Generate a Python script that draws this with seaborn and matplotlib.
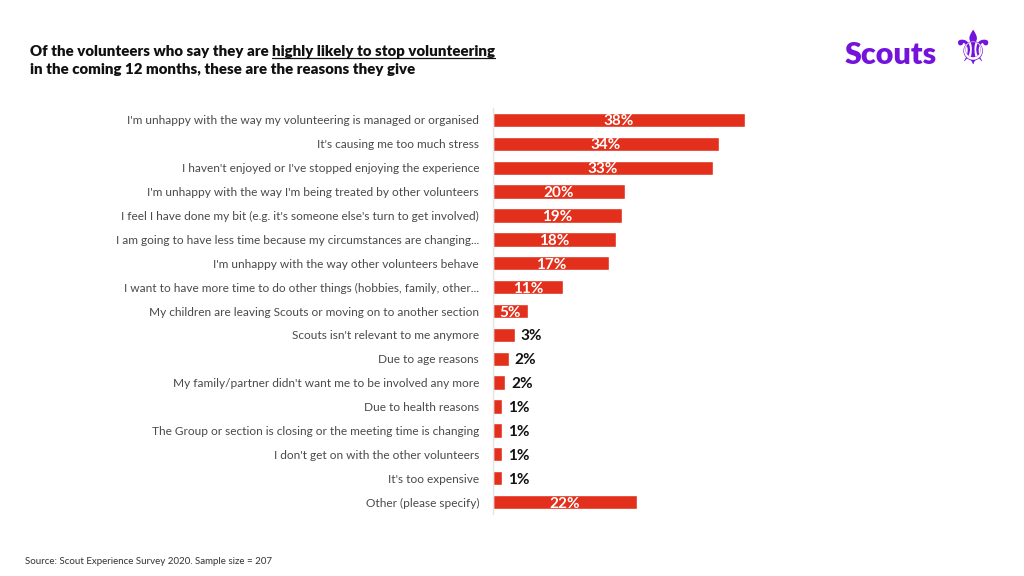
"""
Reasons volunteers give for stopping - horizontal bar chart.
"""

import pandas as pd
import matplotlib.pyplot as plt
import seaborn as sns
from matplotlib.lines import Line2D

# Data
reasons = [
    "I'm unhappy with the way my volunteering is managed or organised",
    "It's causing me too much stress",
    "I haven't enjoyed or I've stopped enjoying the experience",
    "I'm unhappy with the way I'm being treated by other volunteers",
    "I feel I have done my bit (e.g. it's someone else's turn to get involved)",
    "I am going to have less time because my circumstances are changing...",
    "I'm unhappy with the way other volunteers behave",
    "I want to have more time to do other things (hobbies, family, other...",
    "My children are leaving Scouts or moving on to another section",
    "Scouts isn't relevant to me anymore",
    "Due to age reasons",
    "My family/partner didn't want me to be involved any more",
    "Due to health reasons",
    "The Group or section is closing or the meeting time is changing",
    "I don't get on with the other volunteers",
    "It's too expensive",
    "Other (please specify)",
]
shares = [38.0, 34.1, 33.2, 19.9, 19.5, 18.5, 17.5, 10.6, 5.3, 3.3, 2.4, 1.8,
          1.4, 1.4, 1.4, 1.4, 21.7]
pct_labels = ["38%", "34%", "33%", "20%", "19%", "18%", "17%", "11%", "5%",
              "3%", "2%", "2%", "1%", "1%", "1%", "1%", "22%"]

BAR_RED = "#e3301c"
PURPLE = "#7413dc"

sns.set_theme(style="white")
plt.rcParams["font.family"] = ["Lato", "DejaVu Sans"]

df = pd.DataFrame({"Reason": reasons, "Share": shares})

fig = plt.figure(figsize=(10.24, 5.76), dpi=100)
ax = fig.add_axes([493 / 1024, 1 - 514 / 576, 265 / 1024, 406 / 576])

sns.barplot(data=df, x="Share", y="Reason", color=BAR_RED, saturation=1,
            width=0.6, ax=ax, orient="h")
ax.set_xlim(0, 40)
ax.set_ylim(len(reasons) - 0.5, -0.5)
ax.set_xlabel("")
ax.set_ylabel("")
ax.set_xticks([])
ax.tick_params(axis="y", length=0, pad=10, labelsize=8.55, labelcolor="#4a4a4a")
for side in ["top", "right", "bottom"]:
    ax.spines[side].set_visible(False)
ax.spines["left"].set_color("#e4e4e4")
ax.spines["left"].set_linewidth(1)

# value labels: inside for long bars, outside for short ones
for i, (v, lab) in enumerate(zip(shares, pct_labels)):
    if v >= 5:
        ax.text(v / 2, i, lab, ha="center", va="center_baseline", color="white",
                fontsize=11, fontweight="bold")
    else:
        ax.text(v + 0.9, i, lab, ha="left", va="center_baseline", color="#111111",
                fontsize=11, fontweight="bold")

# title with underlined part
renderer = fig.canvas.get_renderer()
title_kw = dict(fontsize=10.8, fontweight="heavy", color="#111111", va="center")
t1 = fig.text(30 / 1024, 1 - 52 / 576, "Of the volunteers who say they are ",
              **title_kw)
bb = t1.get_window_extent(renderer)
x2 = bb.x1 / fig.bbox.width
t2 = fig.text(x2, 1 - 52 / 576, "highly likely to stop volunteering", **title_kw)
bb2 = t2.get_window_extent(renderer)
y_line = (bb2.y0 + 1) / fig.bbox.height
fig.add_artist(Line2D([bb2.x0 / fig.bbox.width, bb2.x1 / fig.bbox.width],
                      [y_line, y_line], color="#111111", lw=0.9))
fig.text(30 / 1024, 1 - 70 / 576,
         "in the coming 12 months, these are the reasons they give", **title_kw)

# logo
fig.text(845 / 1024, 1 - 55 / 576, "Scouts", fontsize=22, fontweight="heavy",
         color=PURPLE, va="center", ha="left")
fig.text(972 / 1024, 1 - 51 / 576, "\u269c", fontsize=34, color=PURPLE,
         va="center", ha="center", family=["DejaVu Sans"])

fig.text(25 / 1024, 1 - 562 / 576,
         "Source: Scout Experience Survey 2020. Sample size = 207",
         fontsize=7.0, color="#333333", va="center")

fig.savefig("out.png", dpi=100)
